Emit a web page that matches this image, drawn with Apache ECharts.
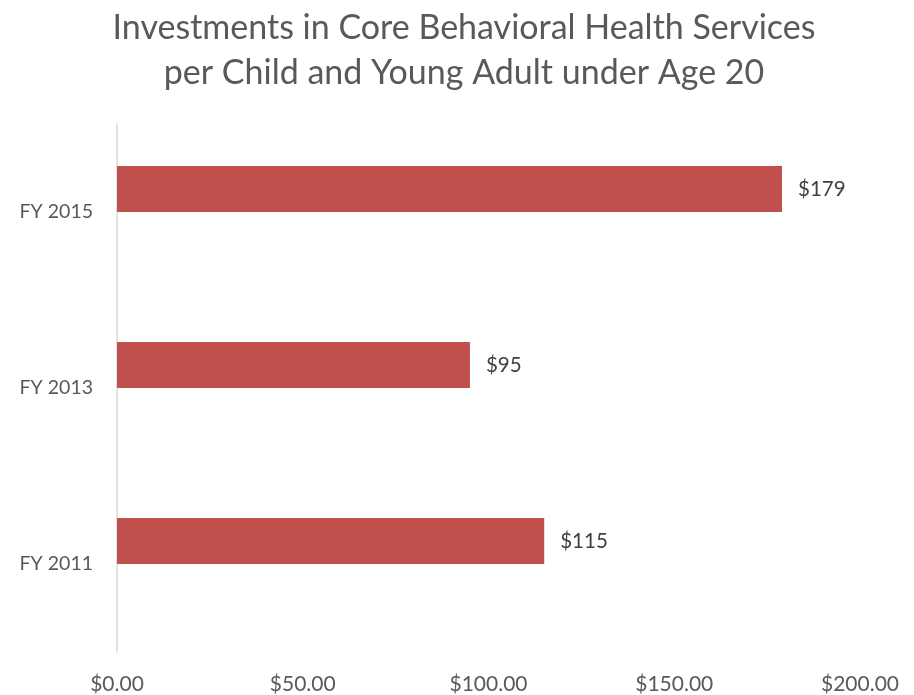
<!DOCTYPE html>
<html>
<head>
<meta charset="utf-8">
<script src="https://cdn.jsdelivr.net/npm/echarts@6/dist/echarts.min.js"></script>
<style>
  html, body { margin: 0; padding: 0; background: #fff; }
  #chart { width: 914px; height: 695px; }
</style>
</head>
<body>
<div id="chart"></div>
<script>
// Fiscal years, bottom to top on the category axis
const years = ['FY 2011', 'FY 2013', 'FY 2015'];
// Dollars invested per child / young adult under 20
const perChild = [115, 95, 179];
// Value-axis ticks
const axisMin = 0;
const axisMax = 200;
const axisStep = 50;

const textColor = '#595959';
const font = 'Lato, "Open Sans", sans-serif';

const chart = echarts.init(document.getElementById('chart'), null, { renderer: 'canvas' });
chart.setOption({
  animation: false,
  title: {
    text: 'Investments in Core Behavioral Health Services\nper Child and Young Adult under Age 20',
    left: 464,
    textAlign: 'center',
    top: 0,
    padding: [6, 0, 5, 0],
    textStyle: {
      fontFamily: font,
      fontSize: 34,
      fontWeight: 'normal',
      color: textColor,
      lineHeight: 45
    }
  },
  grid: { left: 117, right: 54, top: 124, bottom: 43, containLabel: false },
  xAxis: {
    type: 'value',
    min: axisMin,
    max: axisMax,
    interval: axisStep,
    axisLine: { show: false },
    axisTick: { show: false },
    splitLine: { show: false },
    axisLabel: {
      margin: 22,
      color: textColor,
      fontFamily: font,
      fontSize: 21,
      formatter: v => '$' + v.toFixed(2)
    }
  },
  yAxis: {
    type: 'category',
    data: years,
    axisLine: { show: true, lineStyle: { color: '#d9d9d9', width: 1.5 } },
    axisTick: { show: false },
    axisLabel: {
      margin: 24,
      color: textColor,
      fontFamily: font,
      fontSize: 19.5
    }
  },
  series: [
    {
      name: 'Per child',
      type: 'bar',
      data: perChild,
      barWidth: 46,
      barGap: '0%',
      itemStyle: { color: '#c0504d' },
      label: {
        show: true,
        position: 'right',
        distance: 16,
        color: '#404040',
        fontFamily: font,
        fontSize: 20.5,
        formatter: p => '$' + p.value
      }
    },
    {
      name: 'spacer',
      type: 'bar',
      data: years.map(() => null),
      barWidth: 46,
      barGap: '0%',
      silent: true
    }
  ]
});
</script>
</body>
</html>
